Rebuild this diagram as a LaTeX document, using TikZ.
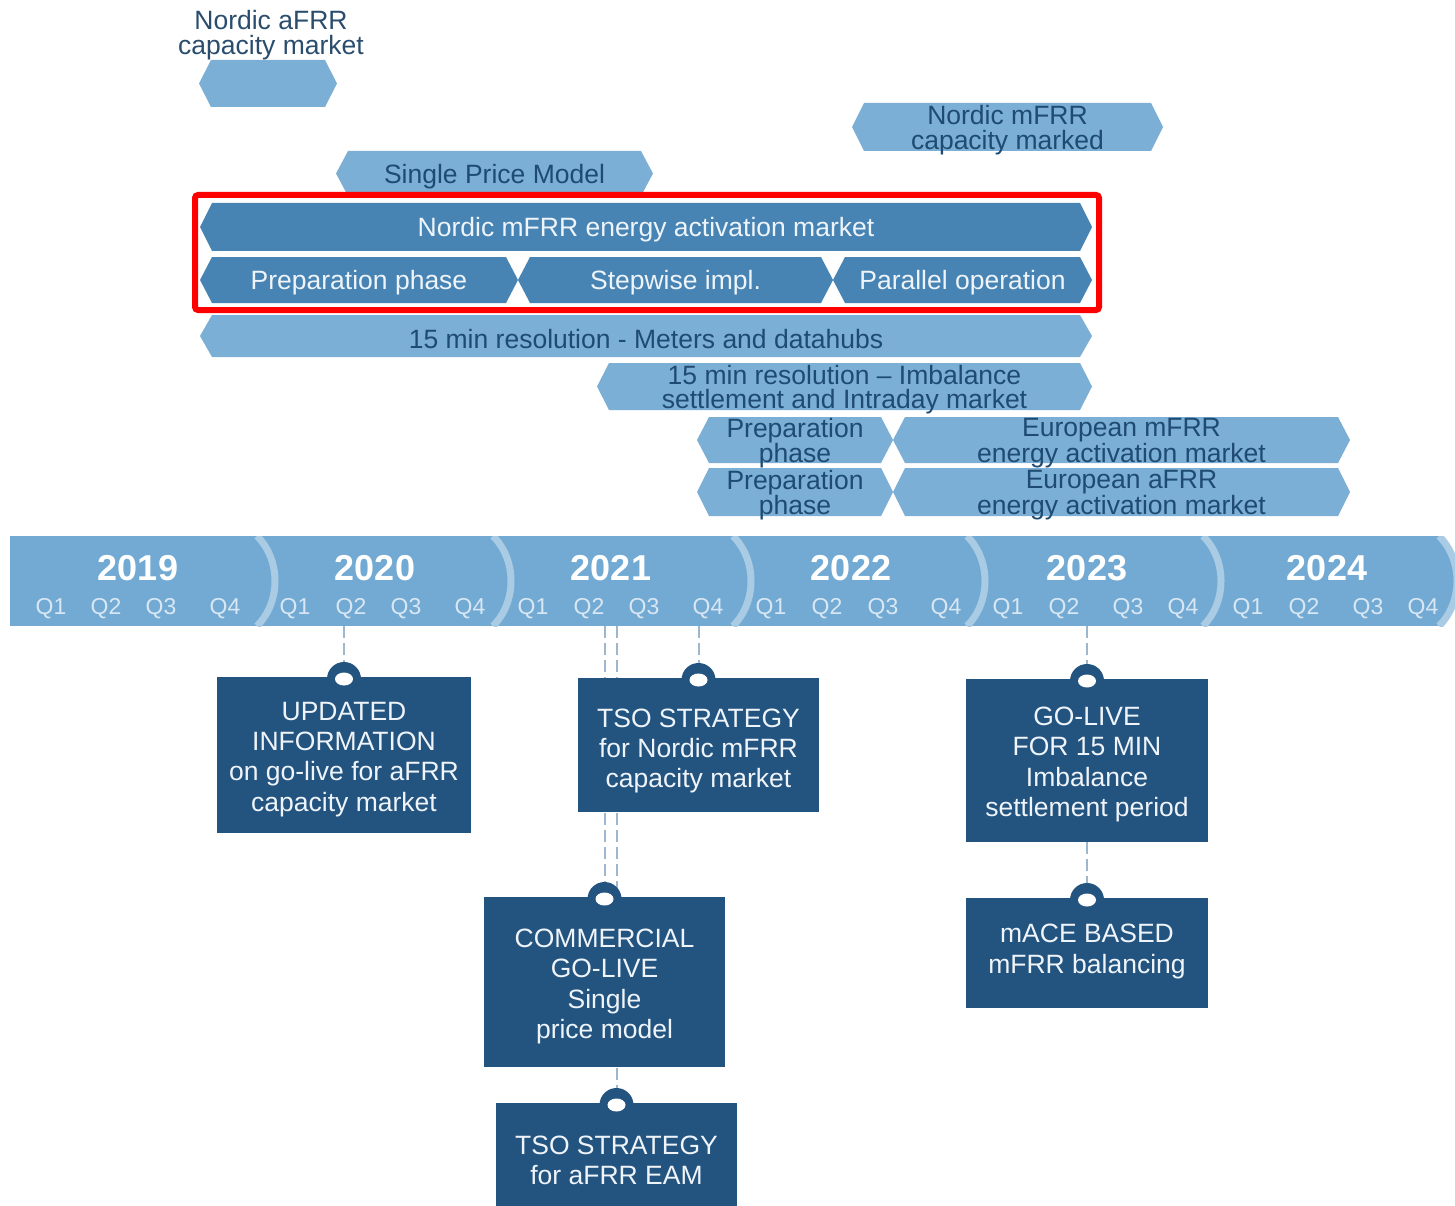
\documentclass[tikz,border=0pt]{standalone}
\usepackage{fontspec}
\setmainfont{Liberation Sans}
\usetikzlibrary{backgrounds}

\definecolor{barlight}{HTML}{7BAFD5}
\definecolor{bardark}{HTML}{4784B3}
\definecolor{tlblue}{HTML}{72AAD3}
\definecolor{tlsep}{HTML}{AACBE4}
\definecolor{boxblue}{HTML}{23537F}
\definecolor{inktext}{HTML}{1F4B73}
\definecolor{paletext}{HTML}{EEF4FA}
\definecolor{qtext}{HTML}{D8E7F3}
\definecolor{dashgray}{HTML}{9FB7CC}
\definecolor{titletext}{HTML}{2A4D6E}

% hexagonal bar: name, left x, right x, top y, bottom y, style, text
\newcommand{\hexbar}[7]{%
  \fill[#6] (#2,{(#4+#5)/2}) -- ({#2+12},#4) -- ({#3-12},#4) -- (#3,{(#4+#5)/2})
            -- ({#3-12},#5) -- ({#2+12},#5) -- cycle;
  \node[#6 label] (#1) at ({(#2+#3)/2},{(#4+#5)/2}) {#7};
}

% milestone card with hanging tab:
% name, centre x, top y, width, height, text centre y, text
\newcommand{\milestone}[7]{%
  \node[card, minimum width=#4, minimum height=#5, anchor=north] (#1) at (#2,#3) {};
  \node[card text] (#1-text) at (#2,#6) {#7};
  \fill[boxblue] (#2,{#3+2}) circle[radius=17];
  \fill[white] (#2,{#3+2}) ellipse[x radius=9, y radius=6.5];
}

\begin{document}
\begin{tikzpicture}[x=1pt,y=-1pt,
  barfont/.style={font=\fontsize{26.5}{24.5}\selectfont, align=center, inner sep=0, yshift=-3pt},
  lightbar/.style={fill=barlight},
  lightbar label/.style={barfont, text=inktext},
  darkbar/.style={fill=bardark},
  darkbar label/.style={barfont, text=paletext},
  heading/.style={barfont, text=titletext},
  year/.style={text=white, font=\bfseries\fontsize{36}{36}\selectfont, inner sep=0},
  quarter/.style={text=qtext, font=\fontsize{23}{23}\selectfont, inner sep=0},
  card/.style={fill=boxblue, inner sep=0},
  card text/.style={text=paletext, font=\fontsize{26.5}{30.2}\selectfont, align=center, inner sep=0},
  dashline/.style={draw=dashgray, line width=2, dash pattern=on 12 off 5},
  highlight/.style={draw=red, line width=6, rounded corners=3, inner sep=0}
]
\clip (0,0) rectangle (1455,1206);

% ---------- market bars ----------
\node[heading] (aFRRtitle) at (271,32) {Nordic aFRR\\capacity market};
\hexbar{aFRRcap}{199}{337}{60}{107}{lightbar}{}
\hexbar{mFRRcap}{852}{1163}{103}{151}{lightbar}{Nordic mFRR\\capacity marked}
\hexbar{spm}{336}{653}{151}{196}{lightbar}{Single Price Model}
\hexbar{eam}{200}{1092}{203}{251}{darkbar}{Nordic mFRR energy activation market}
\hexbar{prep}{200}{518}{257}{303}{darkbar}{Preparation phase}
\hexbar{step}{518}{833}{257}{303}{darkbar}{Stepwise impl.}
\hexbar{par}{833}{1092}{257}{303}{darkbar}{Parallel operation}
\hexbar{meters}{200}{1092}{315}{357}{lightbar}{15 min resolution - Meters and datahubs}
\hexbar{isp}{597}{1092}{363}{410}{lightbar}{15 min resolution – Imbalance\\settlement and Intraday market}
\hexbar{prepm}{697}{893}{417}{463}{lightbar}{Preparation\\phase}
\hexbar{eum}{893}{1350}{417}{463}{lightbar}{European mFRR\\energy activation market}
\hexbar{prepa}{697}{893}{468}{516}{lightbar}{Preparation\\phase}
\hexbar{eua}{893}{1350}{468}{516}{lightbar}{European aFRR\\energy activation market}

% ---------- time axis ----------
\node[fill=tlblue, minimum width=1430, minimum height=90, inner sep=0, anchor=north west] (tl) at (10,536) {};
\fill[tlblue] (1439,536) .. controls (1462,560) and (1462,602) .. (1439,626) -- cycle;
\begin{scope}
  \clip (10,536) rectangle (1460,626);
  \foreach \x in {257,493,733,967,1203,1439}
    \draw[tlsep, line width=7] (\x,536) .. controls ({\x+24},560) and ({\x+24},602) .. (\x,626);
\end{scope}

\foreach \x/\y in {138/2019,375/2020,611/2021,851/2022,1087/2023,1327/2024}
  \node[year] (yr\y) at (\x,568) {\y};

\foreach \x/\q [count=\i] in {51/1,106/2,161/3,225/4,295/1,351/2,406/3,470/4,
                              533/1,589/2,644/3,708/4,771/1,827/2,883/3,946/4,
                              1008/1,1064/2,1128/3,1183/4,1248/1,1304/2,1368/3,1423/4}
  \node[quarter] (q\i) at (\x,609) {Q\q};

% ---------- milestones ----------
\milestone{info}{344}{677}{254}{156}{759.5}{UPDATED\\INFORMATION\\on go-live for aFRR\\capacity market}
\milestone{tsom}{698.5}{678}{241}{134}{751}{TSO STRATEGY\\for Nordic mFRR\\capacity market}
\milestone{golive}{604.5}{897}{241}{170}{986.5}{COMMERCIAL\\GO-LIVE\\Single\\price model}
\milestone{tsoa}{616.5}{1103}{241}{114}{1160}{TSO STRATEGY\\for aFRR EAM}
\milestone{isp15}{1087}{679}{242}{163}{764.5}{GO-LIVE\\FOR 15 MIN\\Imbalance\\settlement period}
\milestone{mace}{1087}{898}{242}{110}{951.5}{mACE BASED\\mFRR balancing}

\begin{scope}[on background layer]
  \fill[white] (0,0) rectangle (1455,1206);
  \draw[dashline] (tl.south -| info.north) -- (info.north);
  \draw[dashline] (tl.south -| tsom.north) -- (tsom.north);
  \draw[dashline] (tl.south -| golive.north) -- (golive.north);
  \draw[dashline] (tl.south -| tsoa.north) -- (tsoa.north);
  \draw[dashline] (tl.south -| isp15.north) -- (isp15.north);
  \draw[dashline] (isp15.south) -- (mace.north);
\end{scope}

% ---------- highlight frame ----------
\node[highlight, minimum width=904, minimum height=115] (frame) at (647,252.5) {};
\end{tikzpicture}
\end{document}
